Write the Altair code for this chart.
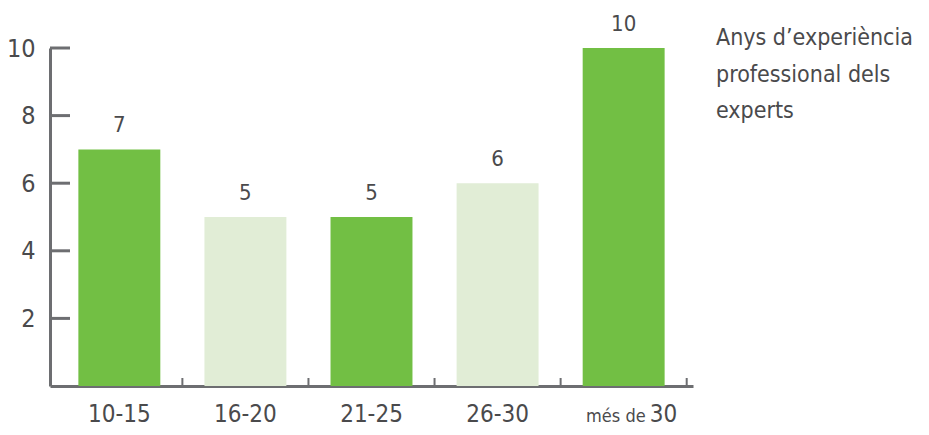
import altair as alt
import pandas as pd

# ---- data ----
categories = ["10-15", "16-20", "21-25", "26-30", "més de 30"]
values = [7, 5, 5, 6, 10]
shades = ["fosc", "clar", "fosc", "clar", "fosc"]
x_main_labels = ["10-15", "16-20", "21-25", "26-30", "30"]
x_prefix_labels = ["", "", "", "", "més de"]
y_ticks = [2, 4, 6, 8, 10]
title_lines = [" Anys d\u2019experiència", "professional dels", "experts"]

# ---- style ----
FONT = "Liberation Sans Narrow, DejaVu Sans Condensed, sans-serif"
DARK = "#72bf44"
LIGHT = "#e1edd6"
AXIS = "#6d6e71"
TEXT = "#4a4a4c"
W, H = 643, 338

df = pd.DataFrame({
    "cat": categories,
    "val": values,
    "shade": shades,
    "main": x_main_labels,
    "prefix": x_prefix_labels,
})

xscale = alt.Scale(domain=categories, paddingInner=0, paddingOuter=0.05)
xaxis = alt.Axis(labels=False, ticks=False, domainWidth=3, domainColor=AXIS, grid=False)
yaxis = alt.Axis(values=y_ticks, ticks=False, grid=False,
                 labelFontSize=25, labelPadding=15, labelColor=TEXT,
                 labelFont=FONT, domainWidth=3, domainColor=AXIS)


def X(**kw):
    return alt.X("cat:N", sort=categories, scale=xscale, axis=xaxis, title=None, **kw)


bars = alt.Chart(df).mark_bar(width=alt.RelativeBandSize(0.65)).encode(
    x=X(),
    y=alt.Y("val:Q", scale=alt.Scale(domain=[0, 10], nice=False, zero=True),
            axis=yaxis, title=None),
    color=alt.Color("shade:N", scale=alt.Scale(domain=["fosc", "clar"], range=[DARK, LIGHT]),
                    legend=None),
)

value_labels = alt.Chart(df).mark_text(
    baseline="alphabetic", dy=-17, fontSize=22, color=TEXT, font=FONT
).encode(
    x=X(),
    y=alt.Y("val:Q", axis=yaxis, title=None),
    text=alt.Text("val:Q"),
)

ytick_rules = alt.Chart(pd.DataFrame({"val": y_ticks})).mark_rule(
    color=AXIS, strokeWidth=3
).encode(
    y=alt.Y("val:Q", axis=yaxis, title=None),
    x=alt.value(0),
    x2=alt.value(20),
)

xtick_rules = alt.Chart(df).mark_rule(color=AXIS, strokeWidth=2).encode(
    x=X(bandPosition=1),
    y=alt.value(H),
    y2=alt.value(H - 8),
)

LAB_Y = H + 36

xlab_plain = alt.Chart(df).transform_filter("datum.prefix == ''").mark_text(
    baseline="alphabetic", align="center", fontSize=24, color=TEXT, font=FONT
).encode(
    x=X(),
    y=alt.value(LAB_Y),
    text="main:N",
)

xlab_num = alt.Chart(df).transform_filter("datum.prefix != ''").mark_text(
    baseline="alphabetic", align="left", dx=26, fontSize=24, color=TEXT, font=FONT
).encode(
    x=X(),
    y=alt.value(LAB_Y),
    text="main:N",
)

xlab_prefix = alt.Chart(df).transform_filter("datum.prefix != ''").mark_text(
    baseline="alphabetic", align="right", dx=22, fontSize=18, color=TEXT, font=FONT
).encode(
    x=X(),
    y=alt.value(LAB_Y),
    text="prefix:N",
)

side_title = alt.Chart(pd.DataFrame({"k": [0]})).mark_text(
    align="left", baseline="alphabetic", fontSize=23, lineHeight=36.5,
    color=TEXT, font=FONT
).encode(
    x=alt.value(W + 23),
    y=alt.value(-3),
    text=alt.value(title_lines),
)

chart = alt.layer(
    bars, value_labels, ytick_rules, xtick_rules,
    xlab_plain, xlab_num, xlab_prefix, side_title
).properties(
    width=W, height=H,
    padding={"left": 42, "top": 40, "right": 228, "bottom": 41},
    autosize=alt.AutoSizeParams(type="none"),
).configure(font=FONT).configure_view(stroke=None)

chart.save("out.html", embed_options={"renderer": "svg", "actions": False})
